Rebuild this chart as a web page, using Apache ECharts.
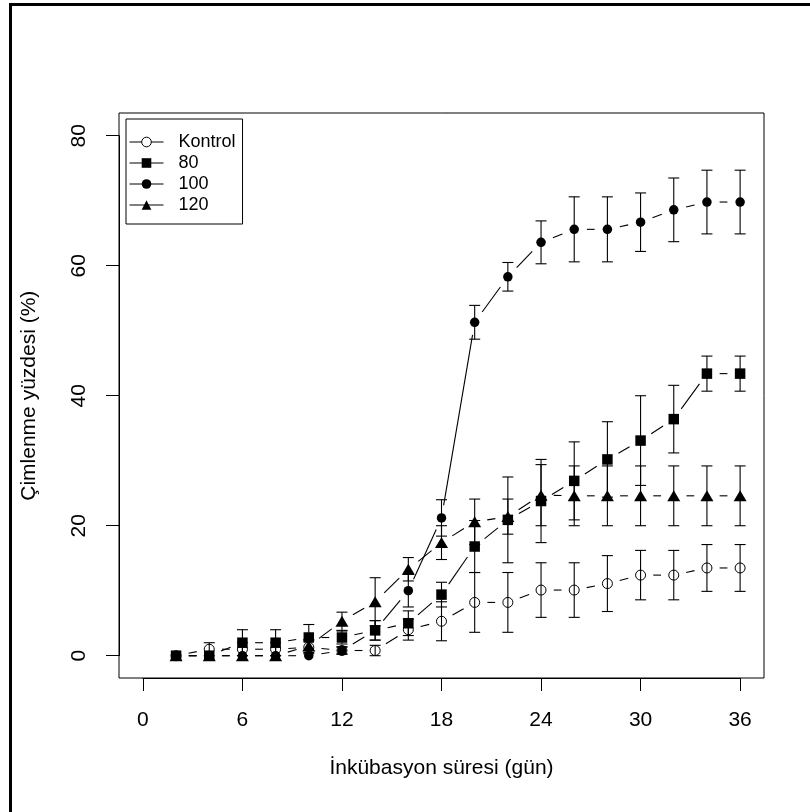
<!DOCTYPE html>
<html><head><meta charset="utf-8">
<script src="https://cdn.jsdelivr.net/npm/echarts@6/dist/echarts.min.js"></script>
<style>html,body{margin:0;padding:0;background:#fff}#c{width:810px;height:812px}</style>
</head><body><div id="c"></div>
<script>
// ---- data ----
const days = [2,4,6,8,10,12,14,16,18,20,22,24,26,28,30,32,34,36];
const seriesNames = ['Kontrol','80','100','120'];
const kontrol    = [0,1.0,1.0,1.0,1.3,0.8,0.8,4.0,5.3,8.2,8.2,10.1,10.1,11.1,12.4,12.4,13.5,13.5];
const kontrolErr = [0,1.0,1.0,1.0,1.0,0.6,0.8,1.6,3.0,4.6,4.6,4.2,4.2,4.3,3.8,3.8,3.6,3.6];
const d80        = [0,0,2.0,2.0,2.8,2.8,3.9,5.0,9.4,16.8,20.9,23.8,26.9,30.2,33.1,36.4,43.4,43.4];
const d80Err     = [0,0,2.0,2.0,2.0,1.0,1.5,1.9,1.9,4.0,6.6,6.4,6.0,5.8,6.9,5.2,2.7,2.7];
const d100       = [0,0,0,0,0,0.8,3.9,10.0,21.2,51.3,58.3,63.6,65.6,65.6,66.7,68.6,69.8,69.8];
const d100Err    = [0,0,0,0,0,0.5,1.5,2.5,2.8,2.6,2.2,3.3,5.0,5.0,4.5,4.9,4.9,4.9];
const d120       = [0,0,0,0,1.5,5.3,8.3,13.3,17.4,20.6,21.4,24.7,24.6,24.6,24.6,24.6,24.6,24.6];
const d120Err    = [0,0,0,0,1.0,1.4,3.7,1.8,2.6,3.5,2.7,4.7,4.6,4.6,4.6,4.6,4.6,4.6];
const xTickStep = 6, xTickMax = 36;
const yTickStep = 20, yTickMax = 80;
const xTitle = 'İnkübasyon süresi (gün)';
const yTitle = 'Çimlenme yüzdesi (%)';

const FONT = "'Liberation Sans', Arial, Helvetica, sans-serif";
const groups = [
  {name: seriesNames[0], vals: kontrol, errs: kontrolErr, symbol: 'circle', size: 10, fill: 'rgba(0,0,0,0)', bw: 1},
  {name: seriesNames[1], vals: d80, errs: d80Err, symbol: 'rect', size: 10.5, fill: '#000', bw: 0},
  {name: seriesNames[2], vals: d100, errs: d100Err, symbol: 'circle', size: 9.5, fill: '#000', bw: 0},
  {name: seriesNames[3], vals: d120, errs: d120Err, symbol: 'triangle', size: [13, 11], fill: '#000', bw: 0}
];

const LW = 1.1;
function lineGap(params, api) {
  const a = api.coord([api.value(0), api.value(1)]);
  const b = api.coord([api.value(2), api.value(3)]);
  const dx = b[0] - a[0], dy = b[1] - a[1], L = Math.hypot(dx, dy);
  const g = 12.7;
  if (L <= 2 * g) return null;
  const ux = dx / L, uy = dy / L;
  return {type: 'line', silent: true,
    shape: {x1: a[0] + ux * g, y1: a[1] + uy * g, x2: b[0] - ux * g, y2: b[1] - uy * g},
    style: {stroke: '#000', lineWidth: LW}};
}
function errBar(params, api) {
  const x = api.value(0), lo = api.value(1), hi = api.value(2);
  if (!(hi > lo)) return null;
  const p1 = api.coord([x, lo]), p2 = api.coord([x, hi]);
  const c = 5.5, st = {stroke: '#000', lineWidth: LW};
  return {type: 'group', silent: true, children: [
    {type: 'line', shape: {x1: p1[0], y1: p1[1], x2: p2[0], y2: p2[1]}, style: st},
    {type: 'line', shape: {x1: p1[0] - c, y1: p1[1], x2: p1[0] + c, y2: p1[1]}, style: st},
    {type: 'line', shape: {x1: p2[0] - c, y1: p2[1], x2: p2[0] + c, y2: p2[1]}, style: st}
  ]};
}

const series = [];
groups.forEach(g => {
  const segs = [];
  for (let i = 0; i < days.length - 1; i++) segs.push([days[i], g.vals[i], days[i + 1], g.vals[i + 1]]);
  series.push({type: 'custom', name: g.name + ' line', xAxisIndex: 0, yAxisIndex: 0, silent: true,
    data: segs, renderItem: lineGap, encode: {x: [0, 2], y: [1, 3]}, clip: false});
});
groups.forEach(g => {
  const bars = days.map((d, i) => [d, g.vals[i] - g.errs[i], g.vals[i] + g.errs[i]]);
  series.push({type: 'custom', name: g.name + ' err', xAxisIndex: 0, yAxisIndex: 0, silent: true,
    data: bars, renderItem: errBar, encode: {x: 0, y: [1, 2]}, clip: false});
});
groups.forEach(g => {
  series.push({type: 'line', name: g.name, xAxisIndex: 0, yAxisIndex: 0,
    data: days.map((d, i) => [d, g.vals[i]]),
    symbol: g.symbol, symbolSize: g.size, showSymbol: true, showAllSymbol: true,
    lineStyle: {opacity: 0}, silent: true,
    itemStyle: {color: g.fill, borderColor: '#000', borderWidth: g.bw, opacity: 1},
    emphasis: {disabled: true}});
});

const chart = echarts.init(document.getElementById('c'), null, {renderer: 'canvas'});
chart.setOption({
  animation: false,
  backgroundColor: '#fff',
  textStyle: {fontFamily: FONT, color: '#000'},
  grid: [
    {left: 119, top: 113, width: 645, height: 565, show: true, borderColor: '#000', borderWidth: 1, backgroundColor: 'transparent', containLabel: false, outerBoundsMode: 'none'},
    {left: 142.89, top: 113, width: 597.2, height: 565, show: false, containLabel: false, outerBoundsMode: 'none'},
    {left: 119, top: 135.7, width: 645, height: 520, show: false, containLabel: false, outerBoundsMode: 'none'}
  ],
  xAxis: [
    {gridIndex: 0, type: 'value', min: -1.44, max: 37.44, show: false},
    {gridIndex: 1, type: 'value', min: 0, max: xTickMax, interval: xTickStep,
      axisLine: {show: true, lineStyle: {color: '#000', width: 1}},
      axisTick: {show: true, inside: false, length: 13, lineStyle: {color: '#000', width: 1}},
      axisLabel: {show: true, fontSize: 21, color: '#000', margin: 32, fontFamily: FONT, showMinLabel: true, showMaxLabel: true},
      splitLine: {show: false},
      name: xTitle, nameLocation: 'middle', nameGap: 80,
      nameTextStyle: {fontSize: 21, color: '#000', fontFamily: FONT}},
    {gridIndex: 2, type: 'value', min: 0, max: 1, show: false}
  ],
  yAxis: [
    {gridIndex: 0, type: 'value', min: -3.43, max: 83.5, show: false},
    {gridIndex: 1, type: 'value', min: 0, max: 1, show: false},
    {gridIndex: 2, type: 'value', min: 0, max: yTickMax, interval: yTickStep,
      axisLine: {show: true, lineStyle: {color: '#000', width: 1}},
      axisTick: {show: true, inside: false, length: 13, lineStyle: {color: '#000', width: 1}},
      axisLabel: {show: true, fontSize: 21, color: '#000', margin: 29, rotate: 90, fontFamily: FONT, showMinLabel: true, showMaxLabel: true},
      splitLine: {show: false},
      name: yTitle, nameLocation: 'middle', nameGap: 79,
      nameTextStyle: {fontSize: 21, color: '#000', fontFamily: FONT}}
  ],
  legend: {
    orient: 'vertical', left: 126, top: 119,
    padding: [14, 7, 10, 3], itemGap: 3, itemWidth: 34, itemHeight: 12,
    borderColor: '#000', borderWidth: 1, backgroundColor: '#fff',
    selectedMode: false,
    textStyle: {fontSize: 18, color: '#000', fontFamily: FONT, padding: [0, 0, 0, 10]},
    lineStyle: {color: '#000', width: 1, opacity: 1, type: 'solid'},
    itemStyle: {opacity: 1},
    data: groups.map(g => ({name: g.name,
      itemStyle: {color: g.bw ? '#fff' : g.fill, borderColor: '#000', borderWidth: g.bw, opacity: 1}}))
  },
  graphic: [
    {type: 'line', shape: {x1: 10.5, y1: 4.5, x2: 810, y2: 4.5}, style: {stroke: '#000', lineWidth: 3}, silent: true},
    {type: 'line', shape: {x1: 10.5, y1: 3, x2: 10.5, y2: 812}, style: {stroke: '#000', lineWidth: 3}, silent: true}
  ],
  series: series
});
</script></body></html>
